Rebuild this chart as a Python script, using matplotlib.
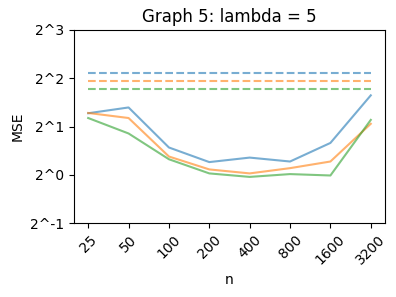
import matplotlib
matplotlib.use('Agg')
import matplotlib.pyplot as plt

n_values = ['25', '50', '100', '200', '400', '800', '1600', '3200']
mse_blue = [2.42, 2.63, 1.48, 1.20, 1.28, 1.21, 1.58, 3.13]
mse_orange = [2.43, 2.26, 1.30, 1.08, 1.02, 1.10, 1.21, 2.08]
mse_green = [2.26, 1.81, 1.25, 1.02, 0.97, 1.01, 0.99, 2.20]
baselines = [4.32, 3.87, 3.45]
y_ticks = [0.5, 1, 2, 4, 8]
y_labels = ['2^-1', '2^0', '2^1', '2^2', '2^3']

colors = ['tab:blue', 'tab:orange', 'tab:green']
x = list(range(len(n_values)))

fig = plt.figure(figsize=(3.96, 2.97), dpi=100)
ax = fig.add_axes([0.187, 0.249, 0.785, 0.650])
for series, base, c in zip((mse_blue, mse_orange, mse_green), baselines, colors):
    ax.plot(x, series, color=c, alpha=0.6)
    ax.plot(x, [base] * len(x), color=c, alpha=0.6, linestyle='--')

ax.set_yscale('log', base=2)
ax.set_ylim(0.5, 8)
ax.set_yticks(y_ticks)
ax.set_yticklabels(y_labels)
ax.minorticks_off()
ax.set_xticks(x)
ax.set_xticklabels(n_values, rotation=45)
ax.set_xlabel('n')
ax.set_ylabel('MSE')
ax.set_title('Graph 5: lambda = 5')
fig.savefig('out.png', dpi=100)
